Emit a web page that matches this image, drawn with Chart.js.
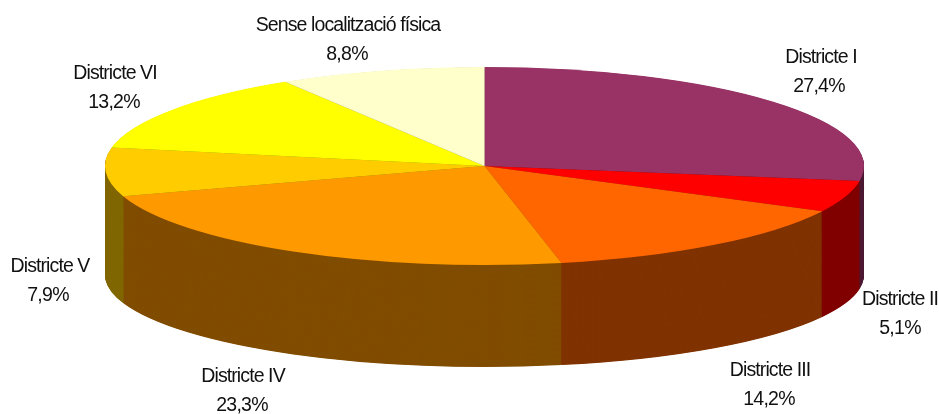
<!DOCTYPE html>
<html>
<head>
<meta charset="utf-8">
<style>html,body{margin:0;padding:0;background:#fff}canvas{display:block}</style>
<script src="https://cdn.jsdelivr.net/npm/chart.js@4"></script>
</head>
<body>
<canvas id="c" width="939" height="414"></canvas>
<script>
const categories = ["Districte I","Districte II","Districte III","Districte IV","Districte V","Districte VI","Sense localització física"];
const shares = [27.4,5.1,14.2,23.3,7.9,13.2,8.8];
const topColours = ["#993366","#FF0000","#FF6600","#FF9900","#FFCC00","#FFFF00","#FFFFCC"];
const wallColours = ["#4D1A33","#800000","#803300","#804D00","#806600","#808000","#808066"];

// Layout of the tilted disc
const TOP = {cx:484.5, cy:166, rx:379.5, ry:99};
const BOTTOM = {cy:275, ry:92};
const WALL_STEPS = 220;
// Label: name x, name baseline, share x, share baseline
const labelPlaces = [[821,63,819,92],[900,305,900,334],[770,376,769,405],[243,382,242,411],[50,272,48,301],[115,79,114,108],[348,31,347,60]];

function tilt(ctx, arc, cy, ry){
  const R = arc.outerRadius;
  ctx.translate(TOP.cx, cy);
  ctx.scale(TOP.rx/R, ry/R);
  ctx.translate(-arc.x, -arc.y);
}
const disc3d = {
  id:'disc3d',
  beforeDatasetsDraw(chart){
    const ctx = chart.ctx, arcs = chart.getDatasetMeta(0).data;
    for(let s=WALL_STEPS; s>=1; s--){
      const t = s/WALL_STEPS;
      ctx.save();
      tilt(ctx, arcs[0], TOP.cy+(BOTTOM.cy-TOP.cy)*t, TOP.ry+(BOTTOM.ry-TOP.ry)*t);
      arcs.forEach((arc,i)=>{
        const o = arc.options;
        arc.options = Object.assign(Object.create(o),{backgroundColor:wallColours[i],borderWidth:0});
        arc.draw(ctx);
        arc.options = o;
      });
      ctx.restore();
    }
    ctx.save();
    tilt(ctx, arcs[0], TOP.cy, TOP.ry);
  },
  afterDatasetsDraw(chart){
    chart.ctx.restore();
  },
  afterDraw(chart){
    const ctx = chart.ctx;
    ctx.save();
    ctx.fillStyle = "#111";
    ctx.textAlign = "center";
    ctx.textBaseline = "alphabetic";
    ctx.font = '19.5px "Liberation Sans"';
    categories.forEach((name,i)=>{
      const [x1,y1,x2,y2] = labelPlaces[i];
      ctx.letterSpacing = "-0.9px";
      ctx.fillText(name,x1,y1);
      ctx.letterSpacing = "-0.75px";
      ctx.fillText(shares[i].toFixed(1).replace('.',',')+'%',x2,y2);
    });
    ctx.restore();
  }
};
new Chart(document.getElementById('c'),{
  type:'pie',
  data:{labels:categories,datasets:[{data:shares,backgroundColor:topColours,borderWidth:0,clip:false}]},
  options:{
    responsive:false,animation:false,
    layout:{padding:0},
    plugins:{legend:{display:false},tooltip:{enabled:false},title:{display:false}}
  },
  plugins:[disc3d]
});
</script>
</body>
</html>
